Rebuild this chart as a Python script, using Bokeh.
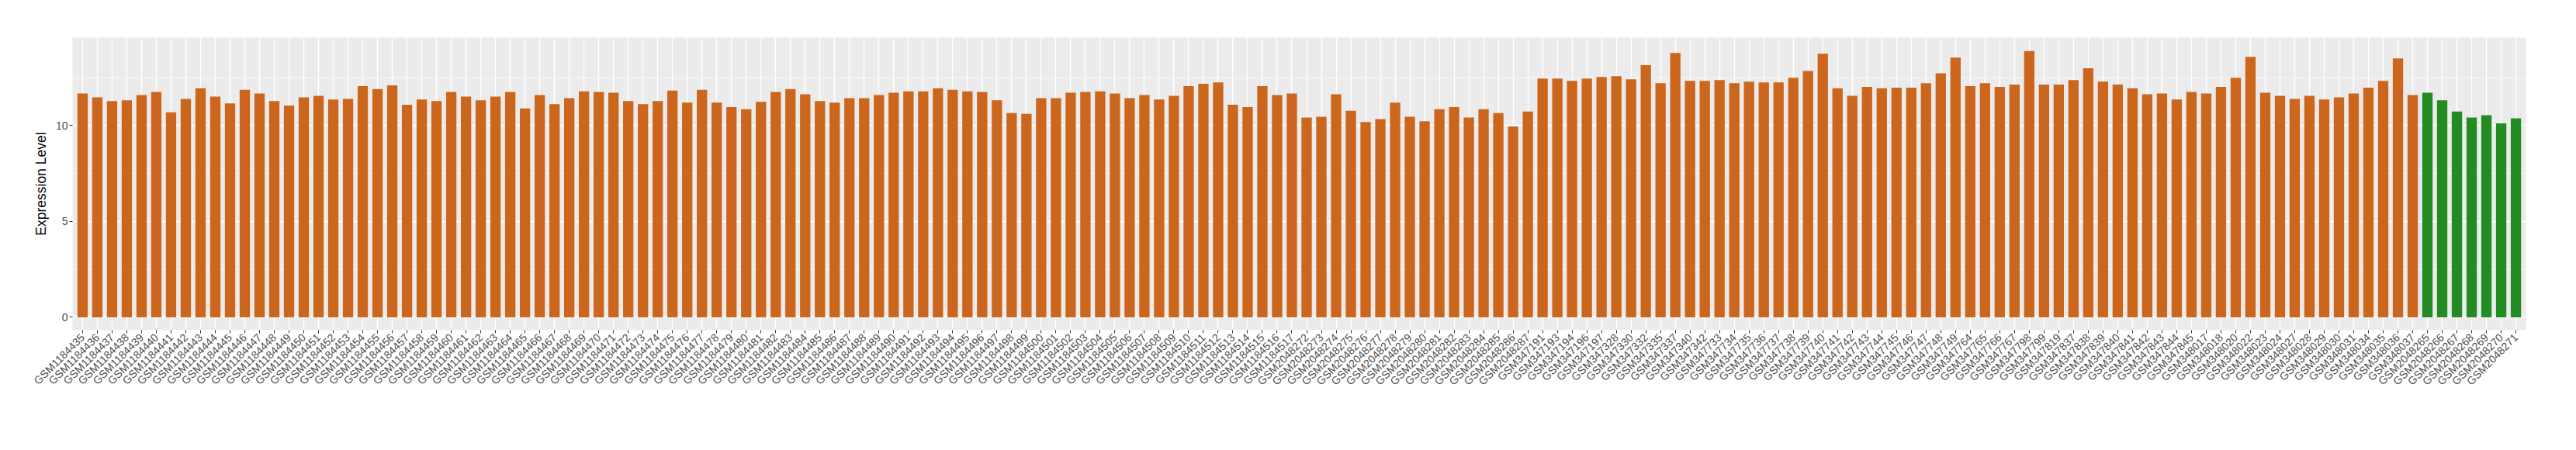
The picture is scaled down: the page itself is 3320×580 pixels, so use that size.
import math
from bokeh.plotting import figure
from bokeh.models import FactorRange, Range1d, SingleIntervalTicker, ColumnDataSource
from bokeh.embed import file_html
from bokeh.resources import INLINE

samples_orange = [
    "GSM1184435", "GSM1184436", "GSM1184437", "GSM1184438", "GSM1184439", "GSM1184440", "GSM1184441",
    "GSM1184442", "GSM1184443", "GSM1184444", "GSM1184445", "GSM1184446", "GSM1184447", "GSM1184448",
    "GSM1184449", "GSM1184450", "GSM1184451", "GSM1184452", "GSM1184453", "GSM1184454", "GSM1184455",
    "GSM1184456", "GSM1184457", "GSM1184458", "GSM1184459", "GSM1184460", "GSM1184461", "GSM1184462",
    "GSM1184463", "GSM1184464", "GSM1184465", "GSM1184466", "GSM1184467", "GSM1184468", "GSM1184469",
    "GSM1184470", "GSM1184471", "GSM1184472", "GSM1184473", "GSM1184474", "GSM1184475", "GSM1184476",
    "GSM1184477", "GSM1184478", "GSM1184479", "GSM1184480", "GSM1184481", "GSM1184482", "GSM1184483",
    "GSM1184484", "GSM1184485", "GSM1184486", "GSM1184487", "GSM1184488", "GSM1184489", "GSM1184490",
    "GSM1184491", "GSM1184492", "GSM1184493", "GSM1184494", "GSM1184495", "GSM1184496", "GSM1184497",
    "GSM1184498", "GSM1184499", "GSM1184500", "GSM1184501", "GSM1184502", "GSM1184503", "GSM1184504",
    "GSM1184505", "GSM1184506", "GSM1184507", "GSM1184508", "GSM1184509", "GSM1184510", "GSM1184511",
    "GSM1184512", "GSM1184513", "GSM1184514", "GSM1184515", "GSM1184516", "GSM1184517",
    "GSM2048272", "GSM2048273", "GSM2048274", "GSM2048275", "GSM2048276", "GSM2048277", "GSM2048278",
    "GSM2048279", "GSM2048280", "GSM2048281", "GSM2048282", "GSM2048283", "GSM2048284", "GSM2048285",
    "GSM2048286", "GSM2048287",
    "GSM347191", "GSM347193", "GSM347194", "GSM347196", "GSM347197", "GSM347328", "GSM347330",
    "GSM347332", "GSM347335", "GSM347337", "GSM347340", "GSM347342", "GSM347733", "GSM347734",
    "GSM347735", "GSM347736", "GSM347737", "GSM347738", "GSM347739", "GSM347740", "GSM347741",
    "GSM347742", "GSM347743", "GSM347744", "GSM347745", "GSM347746", "GSM347747", "GSM347748",
    "GSM347749", "GSM347764", "GSM347765", "GSM347766", "GSM347767", "GSM347798", "GSM347799",
    "GSM347819", "GSM347837", "GSM347838", "GSM347839", "GSM347840", "GSM347841", "GSM347842",
    "GSM347843", "GSM347844", "GSM347845", "GSM348017", "GSM348018", "GSM348020", "GSM348022",
    "GSM348023", "GSM348024", "GSM348027", "GSM348028", "GSM348029", "GSM348030", "GSM348031",
    "GSM348034", "GSM348035", "GSM348036", "GSM348037",
]

values_orange = [
    11.67, 11.47, 11.28, 11.32, 11.59, 11.75, 10.69, 11.39, 11.94, 11.51, 11.16, 11.86, 11.67, 11.28,
    11.04, 11.47, 11.55, 11.36, 11.39, 12.06, 11.90, 12.10, 11.08, 11.36, 11.28, 11.75, 11.51, 11.32, 11.51,
    11.75, 10.89, 11.59, 11.12, 11.43, 11.78, 11.75, 11.71, 11.28, 11.12, 11.28, 11.82, 11.20, 11.86, 11.20,
    10.96, 10.85, 11.24, 11.75, 11.90, 11.63, 11.28, 11.20, 11.43, 11.43, 11.59, 11.71, 11.78, 11.78, 11.94,
    11.86, 11.78, 11.75, 11.32, 10.65, 10.61, 11.43, 11.43, 11.71, 11.75, 11.78, 11.67, 11.43, 11.59, 11.36,
    11.55, 12.06, 12.18, 12.25, 11.08, 10.96, 12.06, 11.59, 11.67, 10.42, 10.46, 11.63, 10.77, 10.18, 10.34,
    11.20, 10.46, 10.22, 10.85, 10.96, 10.42, 10.85, 10.65, 9.95, 10.73,
    12.45, 12.45, 12.33, 12.45, 12.53, 12.57, 12.41, 13.15, 12.21, 13.79, 12.33, 12.33, 12.37, 12.21,
    12.29, 12.25, 12.25, 12.49, 12.84, 13.75,
    11.94, 11.55, 12.02, 11.94, 11.98, 11.98, 12.21, 12.72, 13.54, 12.06, 12.21, 12.02, 12.14, 13.89,
    12.14, 12.14,
    12.37, 12.99, 12.29, 12.14, 11.94, 11.63, 11.67, 11.36, 11.75, 11.67, 12.02, 12.49, 13.58, 11.71,
    11.55, 11.39, 11.55, 11.36, 11.47, 11.67, 11.98, 12.33, 13.50, 11.59,
]

samples_green = ["GSM2048265", "GSM2048266", "GSM2048267", "GSM2048268", "GSM2048269", "GSM2048270", "GSM2048271"]
values_green = [11.71, 11.32, 10.73, 10.42, 10.54, 10.11, 10.38]

ORANGE = "#CD661D"
GREEN = "#228B22"
FONT = "Liberation Sans"

all_samples = samples_orange + samples_green

p = figure(
    x_range=FactorRange(factors=all_samples, range_padding=0.18, range_padding_units="absolute", factor_padding=0),
    y_range=Range1d(-0.67, 14.585),
    frame_width=3162, frame_height=377,
    min_border_left=93, min_border_top=48, min_border_right=48, min_border_bottom=120,
    output_backend="svg", toolbar_location=None,
    background_fill_color="#EBEBEB", border_fill_color="white",
)
p.outline_line_color = None

src_o = ColumnDataSource(dict(x=samples_orange, top=values_orange))
src_g = ColumnDataSource(dict(x=samples_green, top=values_green))
p.vbar(x="x", top="top", bottom=0, width=0.7, source=src_o, fill_color=ORANGE, line_color=None)
p.vbar(x="x", top="top", bottom=0, width=0.7, source=src_g, fill_color=GREEN, line_color=None)

ticker = SingleIntervalTicker(interval=5, num_minor_ticks=2)
p.yaxis.ticker = ticker
p.ygrid.ticker = ticker
p.ygrid.grid_line_color = "white"
p.ygrid.grid_line_width = 1.4
p.ygrid.minor_grid_line_color = "white"
p.ygrid.minor_grid_line_width = 0.7
p.xgrid.grid_line_color = "white"
p.xgrid.grid_line_width = 1.4

for ax in (p.xaxis[0], p.yaxis[0]):
    ax.axis_line_color = None
    ax.major_tick_line_color = "#333333"
    ax.major_tick_line_width = 1
    ax.major_tick_out = 4
    ax.major_tick_in = 0
    ax.minor_tick_line_color = None
    ax.major_label_text_font = FONT
    ax.major_label_text_font_size = "14px"
    ax.major_label_text_color = "#4D4D4D"

p.xaxis.major_label_orientation = math.pi / 4
p.xaxis.major_label_standoff = 3
p.yaxis.major_label_standoff = 2

p.yaxis.axis_label = "Expression Level"
p.yaxis.axis_label_text_font = FONT
p.yaxis.axis_label_text_font_size = "17.5px"
p.yaxis.axis_label_text_font_style = "normal"
p.yaxis.axis_label_text_color = "black"
p.yaxis.axis_label_standoff = 6

open("out.html", "w").write(file_html(p, INLINE))
